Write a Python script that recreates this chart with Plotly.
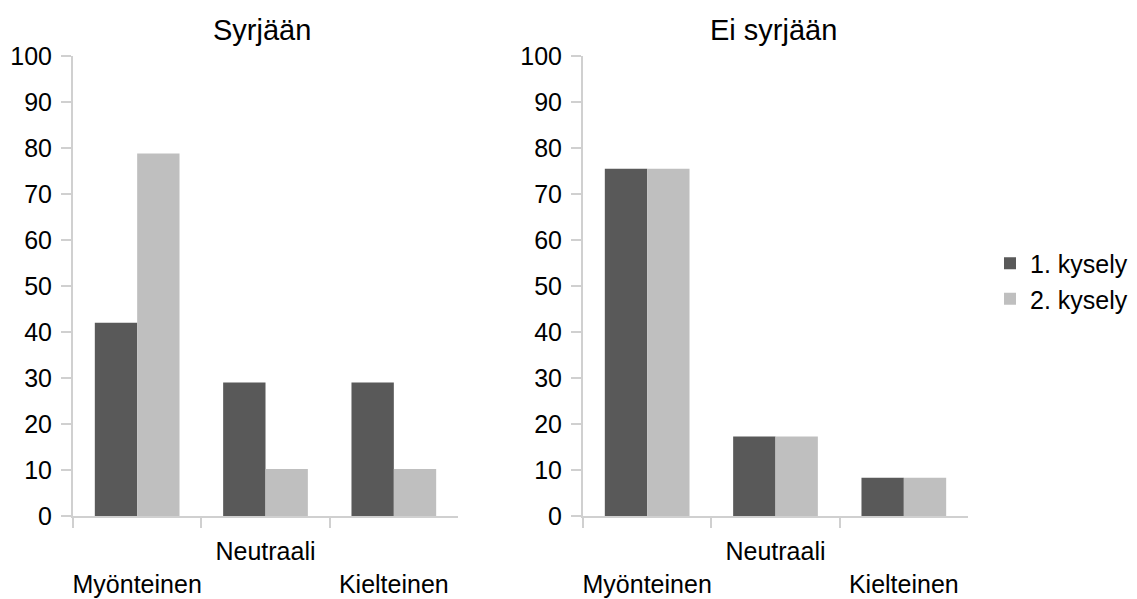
import plotly.graph_objects as go

categories = ["Myönteinen", "Neutraali", "Kielteinen"]
tick_labels = ["<br>Myönteinen", "Neutraali", "<br>Kielteinen"]
series_names = ["1. kysely", "2. kysely"]
panel_titles = ["Syrjään", "Ei syrjään"]

syrjaan_1 = [42.0, 29.0, 29.0]
syrjaan_2 = [78.8, 10.2, 10.2]
ei_syrjaan_1 = [75.5, 17.3, 8.3]
ei_syrjaan_2 = [75.5, 17.3, 8.3]
y_ticks = list(range(0, 101, 10))

colors = ["#595959", "#bfbfbf"]
FONT = "Liberation Sans, Arial, sans-serif"
OFF = 8  # default page body margin
W, H = 1137 - OFF, 599 - OFF

fig = go.Figure()
panels = [(syrjaan_1, syrjaan_2, "x", "y"), (ei_syrjaan_1, ei_syrjaan_2, "x2", "y2")]
for pi, (s1, s2, xa, ya) in enumerate(panels):
    for si, vals in enumerate([s1, s2]):
        fig.add_trace(go.Bar(
            x=categories, y=vals, name=series_names[si],
            marker=dict(color=colors[si], line=dict(width=0)),
            xaxis=xa, yaxis=ya, showlegend=(pi == 0),
        ))

def px_x(p):
    return (p - OFF) / W

def px_y(p):
    return 1 - (p - OFF) / H

ydom = [px_y(516), px_y(56)]
axis_common = dict(
    showline=True, linecolor="#d0d0d0", linewidth=2,
    ticks="outside", tickcolor="#d0d0d0", tickwidth=2,
    showgrid=False, zeroline=False, automargin=False,
    tickfont=dict(family=FONT, size=25, color="#000000"),
)
xaxis_common = dict(axis_common, type="category", tickson="boundaries", ticklen=10,
                    tickmode="array", tickvals=categories, ticktext=tick_labels,
                    tickangle=0, range=[-0.5, 2.5], ticklabelstandoff=12)
yaxis_common = dict(axis_common, range=[0, 100], tickvals=y_ticks, ticklen=10,
                    ticklabelstandoff=4)

fig.update_layout(
    width=W, height=H,
    paper_bgcolor="white", plot_bgcolor="white",
    margin=dict(l=0, r=0, t=0, b=0),
    barmode="group", bargap=0.34, bargroupgap=0,
    font=dict(family=FONT, size=25, color="#000000"),
    xaxis=dict(xaxis_common, domain=[px_x(73), px_x(458)], anchor="y"),
    yaxis=dict(yaxis_common, domain=ydom, anchor="x"),
    xaxis2=dict(xaxis_common, domain=[px_x(583), px_x(968)], anchor="y2"),
    yaxis2=dict(yaxis_common, domain=ydom, anchor="x2"),
    legend=dict(x=px_x(990), y=px_y(281), xanchor="left", yanchor="middle",
                font=dict(family=FONT, size=25), bgcolor="rgba(0,0,0,0)",
                tracegroupgap=0),
    annotations=[
        dict(text=panel_titles[0], x=px_x(262), y=px_y(30),
             xref="paper", yref="paper", showarrow=False, xanchor="center",
             yanchor="middle", font=dict(family=FONT, size=29)),
        dict(text=panel_titles[1], x=px_x(773), y=px_y(30),
             xref="paper", yref="paper", showarrow=False, xanchor="center",
             yanchor="middle", font=dict(family=FONT, size=29)),
    ],
)

fig.write_html("out.html")
